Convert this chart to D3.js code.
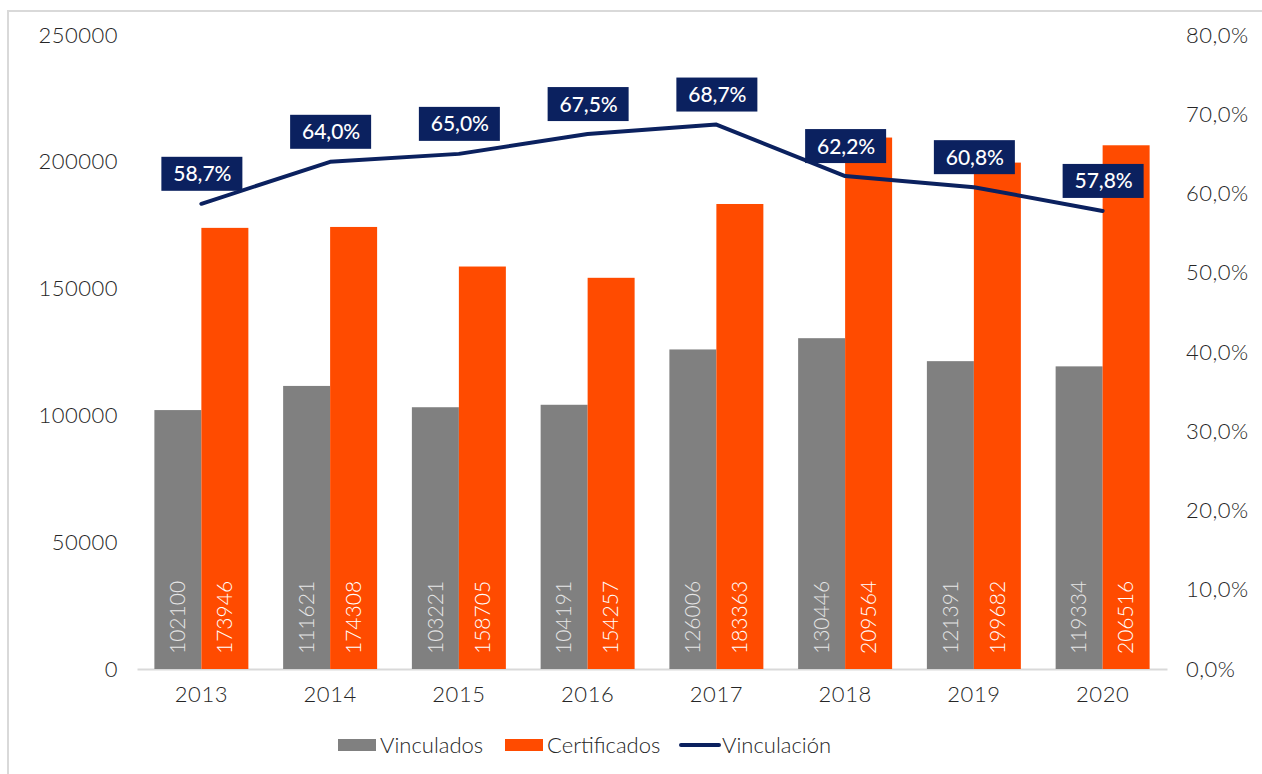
<!DOCTYPE html>
<html>
<head>
<meta charset="utf-8">
<script src="https://cdn.jsdelivr.net/npm/d3@7"></script>
<style>
  body { margin: 0; background: #fff; }
  svg text { font-family: "Lato", "DejaVu Sans", sans-serif; }
</style>
</head>
<body>
<div id="chart"></div>
<script>
// Chart data
var years = ["2013", "2014", "2015", "2016", "2017", "2018", "2019", "2020"];
var vinculados = [102100, 111621, 103221, 104191, 126006, 130446, 121391, 119334];
var certificados = [173946, 174308, 158705, 154257, 183363, 209564, 199682, 206516];
var vinculacion = [58.7, 64.0, 65.0, 67.5, 68.7, 62.2, 60.8, 57.8];
var leftTicks = [0, 50000, 100000, 150000, 200000, 250000];
var rightTicks = [0, 10, 20, 30, 40, 50, 60, 70, 80];

var grayColor = "#808080";
var orangeColor = "#ff4b00";
var navyColor = "#0b215f";

var W = 1262, H = 774;
var margin = {top: 35, right: 95, bottom: 105, left: 137};

var svg = d3.select("#chart").append("svg")
    .attr("width", W)
    .attr("height", H);

// outer chart border (right/bottom fall outside the picture)
svg.append("rect")
    .attr("x", 8).attr("y", 11)
    .attr("width", 1300).attr("height", 800)
    .attr("fill", "none")
    .attr("stroke", "#d9d9d9")
    .attr("stroke-width", 2);

var width = W - margin.left - margin.right;
var height = H - margin.top - margin.bottom;

var g = svg.append("g")
    .attr("transform", "translate(" + margin.left + "," + margin.top + ")");

// Scales
var x = d3.scaleBand().domain(years).range([0, width]).paddingInner(0.27).paddingOuter(0.135);
var xSub = d3.scaleBand().domain(["v", "c"]).range([0, x.bandwidth()]);
var y = d3.scaleLinear().domain([0, 250000]).range([height, 0]);
var y2 = d3.scaleLinear().domain([0, 80]).range([height, 0]);

// Axes
var yAxis = d3.axisLeft(y).tickValues(leftTicks).tickSize(0).tickPadding(19)
    .tickFormat(d3.format("d"));
var y2Axis = d3.axisRight(y2).tickValues(rightTicks).tickSize(0).tickPadding(19)
    .tickFormat(function(d) { return d.toFixed(1).replace(".", ",") + "%"; });
var xAxis = d3.axisBottom(x).tickSize(0).tickPadding(13);

g.append("g").attr("class", "axis y-left").call(yAxis);
g.append("g").attr("class", "axis y-right")
    .attr("transform", "translate(" + width + ",0)")
    .call(y2Axis);
g.append("g").attr("class", "axis x-axis")
    .attr("transform", "translate(0," + height + ")")
    .call(xAxis);

g.selectAll(".y-left .domain, .y-right .domain").remove();
g.select(".x-axis .domain").attr("stroke", "#d9d9d9").attr("stroke-width", 2);
g.selectAll(".axis text")
    .style("font-size", "22px")
    .style("font-weight", 300)
    .style("letter-spacing", "0.5px")
    .attr("fill", "#262626");
g.selectAll(".x-axis text").attr("dy", "0.9em");

// Bars
var groups = g.selectAll(".year-group")
    .data(years)
    .enter().append("g")
    .attr("class", "year-group")
    .attr("transform", function(d) { return "translate(" + x(d) + ",0)"; });

groups.append("rect")
    .attr("x", xSub("v"))
    .attr("width", xSub.bandwidth())
    .attr("y", function(d, i) { return y(vinculados[i]); })
    .attr("height", function(d, i) { return height - y(vinculados[i]); })
    .attr("fill", grayColor);

groups.append("rect")
    .attr("x", xSub("c"))
    .attr("width", xSub.bandwidth())
    .attr("y", function(d, i) { return y(certificados[i]); })
    .attr("height", function(d, i) { return height - y(certificados[i]); })
    .attr("fill", orangeColor);

// Rotated value labels inside bars
groups.append("text")
    .attr("transform", "translate(" + (xSub("v") + xSub.bandwidth() / 2) + "," + (height - 15) + ") rotate(-90)")
    .attr("dy", "0.35em")
    .style("font-size", "21px")
    .style("font-weight", 300)
    .attr("fill", "#e6e6e6")
    .text(function(d, i) { return vinculados[i]; });

groups.append("text")
    .attr("transform", "translate(" + (xSub("c") + xSub.bandwidth() / 2) + "," + (height - 15) + ") rotate(-90)")
    .attr("dy", "0.35em")
    .style("font-size", "21px")
    .style("font-weight", 300)
    .attr("fill", "#ffffff")
    .text(function(d, i) { return certificados[i]; });

// Line
var line = d3.line()
    .x(function(d, i) { return x(years[i]) + x.bandwidth() / 2; })
    .y(function(d) { return y2(d); });

g.append("path")
    .datum(vinculacion)
    .attr("d", line)
    .attr("fill", "none")
    .attr("stroke", navyColor)
    .attr("stroke-width", 4)
    .attr("stroke-linecap", "round")
    .attr("stroke-linejoin", "round");

// Line labels with navy boxes
var lbl = g.selectAll(".line-label")
    .data(vinculacion)
    .enter().append("g")
    .attr("class", "line-label")
    .attr("transform", function(d, i) {
        return "translate(" + (x(years[i]) + x.bandwidth() / 2) + "," + (y2(d) - 30) + ")";
    });

lbl.append("rect")
    .attr("x", -40).attr("y", -17)
    .attr("width", 81).attr("height", 34)
    .attr("fill", navyColor);

lbl.append("text")
    .attr("text-anchor", "middle")
    .attr("dy", "0.36em")
    .attr("x", 1)
    .style("font-size", "21px")
    .style("font-weight", 500)
    .attr("fill", "#ffffff")
    .text(function(d) { return d.toFixed(1).replace(".", ",") + "%"; });

// Legend
var legendItems = [
    {name: "Vinculados", color: grayColor, type: "rect", x: 338},
    {name: "Certificados", color: orangeColor, type: "rect", x: 505},
    {name: "Vinculación", color: navyColor, type: "line", x: 680}
];

var legend = svg.selectAll(".legend-item")
    .data(legendItems)
    .enter().append("g")
    .attr("class", "legend-item")
    .attr("transform", function(d) { return "translate(" + d.x + ",745)"; });

legend.filter(function(d) { return d.type === "rect"; })
    .append("rect")
    .attr("x", 0).attr("y", -6)
    .attr("width", 38).attr("height", 12)
    .attr("fill", function(d) { return d.color; });

legend.filter(function(d) { return d.type === "line"; })
    .append("line")
    .attr("x1", 1).attr("x2", 39)
    .attr("y1", 0).attr("y2", 0)
    .attr("stroke", function(d) { return d.color; })
    .attr("stroke-width", 4)
    .attr("stroke-linecap", "round");

legend.append("text")
    .attr("x", 42)
    .attr("dy", "0.35em")
    .style("font-size", "22px")
    .style("font-weight", 300)
    .attr("fill", "#262626")
    .text(function(d) { return d.name; });
</script>
</body>
</html>
